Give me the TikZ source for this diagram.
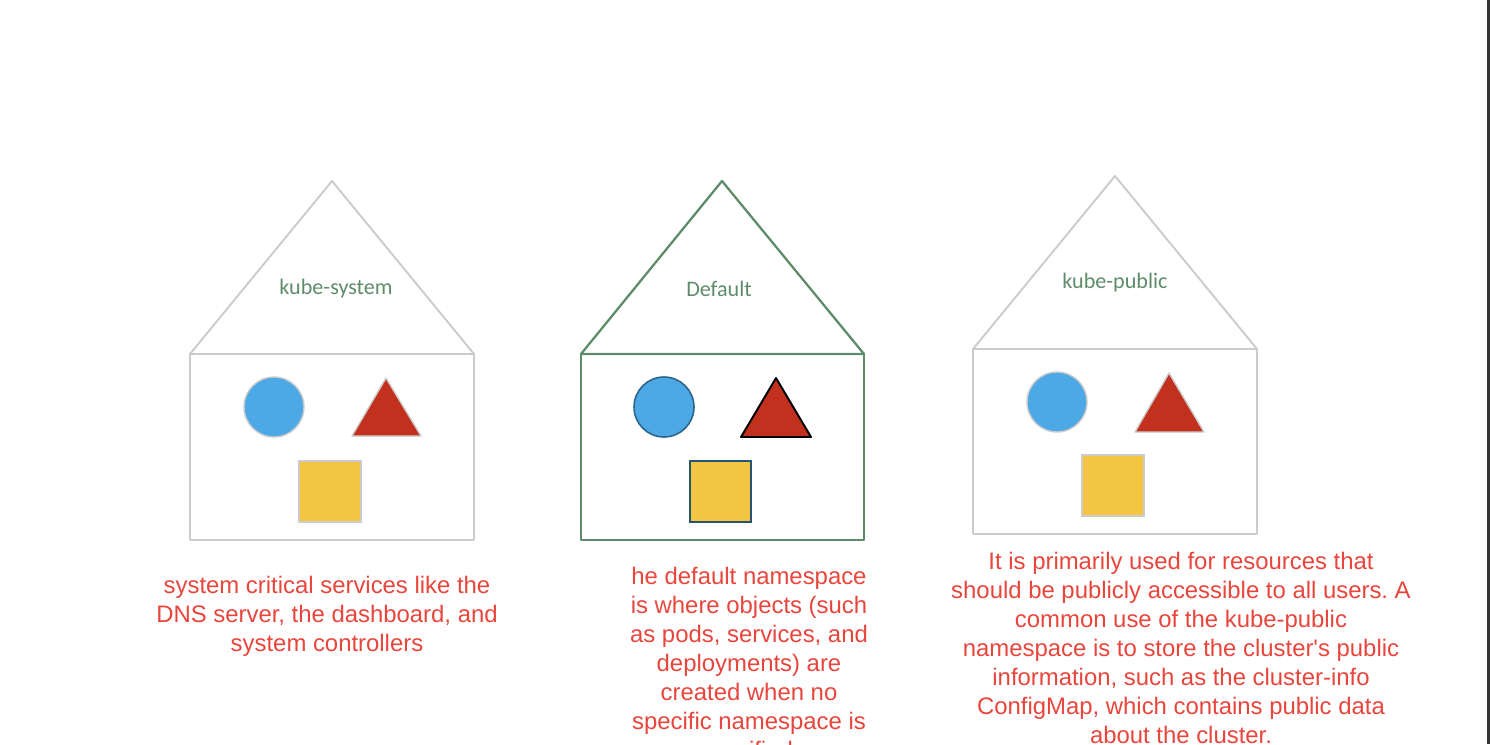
\documentclass[tikz,border=0pt]{standalone}
\usepackage{fontspec}
\usepackage{tkz-euclide}
\setmainfont{Liberation Sans}
\newfontfamily\calibri{Carlito}
\definecolor{wallgray}{HTML}{CCCCCC}
\definecolor{nsgreen}{HTML}{5E8C6A}
\definecolor{notered}{HTML}{E8453C}
\definecolor{podblue}{HTML}{4DA8E6}
\definecolor{svcred}{HTML}{C2301E}
\definecolor{cmyellow}{HTML}{F4C443}
\tikzset{>=stealth}
\frenchspacing

\begin{document}
\begin{tikzpicture}[x=0.02cm,y=-0.02cm,
    wall/.style={draw=wallgray,line width=1.1pt},
    greenwall/.style={draw=nsgreen,line width=1.3pt},
    nsname/.style={text=nsgreen,font=\calibri\fontsize{12.6}{15}\selectfont},
    note/.style={text=notered,align=center,inner sep=0pt,
        font=\fontsize{13.6}{16.45}\selectfont}]
    \useasboundingbox (0,0) rectangle (1490,744);
    \clip (0,0) rectangle (1490,744);
    % kube-system
    \tkzDefPoints{332/181/R1, 190/354/P1, 474/354/Q1, 474/540/S1, 190/540/T1}
    \tkzDefPoints{386/378/A1, 352/436/B1, 421/436/C1}
    \tkzDrawPolygon[wall](P1,R1,Q1)
    \tkzDrawPolygon[wall](P1,Q1,S1,T1)
    \filldraw[fill=podblue,draw=wallgray,line width=0.8pt] (274,407) circle (30);
    \tkzDrawPolygon[fill=svcred,draw=wallgray,line width=0.8pt](A1,B1,C1)
    \filldraw[fill=cmyellow,draw=wallgray,line width=0.8pt] (299,461) rectangle (361,522);
    \node[nsname] (ksys) at (336,289) {kube-system};
    % default
    \tkzDefPoints{722/181/R2, 581/354/P2, 864/354/Q2, 864/540/S2, 581/540/T2}
    \tkzDefPoints{776/378/A2, 741/437/B2, 811/437/C2}
    \tkzDrawPolygon[greenwall](P2,R2,Q2)
    \tkzDrawPolygon[greenwall](P2,Q2,S2,T2)
    \filldraw[fill=podblue,draw=podblue!60!black,line width=0.9pt] (664,407) circle (30);
    \tkzDrawPolygon[fill=svcred,draw=black,line width=1.1pt](A2,B2,C2)
    \filldraw[fill=cmyellow,draw=podblue!50!black,line width=0.9pt] (690,461) rectangle (751,522);
    \node[nsname] (kdef) at (719,289) {Default};
    % kube-public
    \tkzDefPoints{1115/176/R3, 973/349/P3, 1257/349/Q3, 1257/534/S3, 973/534/T3}
    \tkzDefPoints{1169/373/A3, 1135/432/B3, 1204/432/C3}
    \tkzDrawPolygon[wall](P3,R3,Q3)
    \tkzDrawPolygon[wall](P3,Q3,S3,T3)
    \filldraw[fill=podblue,draw=wallgray,line width=0.8pt] (1057,402) circle (30);
    \tkzDrawPolygon[fill=svcred,draw=wallgray,line width=0.8pt](A3,B3,C3)
    \filldraw[fill=cmyellow,draw=wallgray,line width=0.8pt] (1082,455) rectangle (1144,516);
    \node[nsname] (kpub) at (1115,283) {kube-public};
    % notes
    \node[note,anchor=north] (ksysnote) at (327,576) {system critical services like the\\
        DNS server, the dashboard, and\\system controllers};
    \node[note,anchor=north] (kdefnote) at (749,567) {he default namespace\\
        is where objects (such\\as pods, services, and\\deployments) are\\
        created when no\\specific namespace is\\specified.};
    \node[note,anchor=north] (kpubnote) at (1181,552) {It is primarily used for resources that\\
        should be publicly accessible to all users. A\\common use of the kube-public\\
        namespace is to store the cluster\textquotesingle s public\\information, such as the cluster-info\\
        ConfigMap, which contains public data\\about the cluster.};
    % window edge
    \fill[black!80] (1487,0) rectangle (1490,744);
\end{tikzpicture}
\end{document}
